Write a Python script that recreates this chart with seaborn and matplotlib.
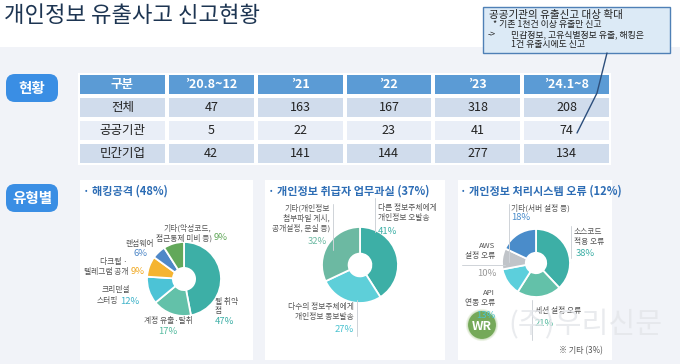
import matplotlib
matplotlib.use("Agg")
import matplotlib.pyplot as plt
import seaborn as sns
import numpy as np
from matplotlib.patches import Rectangle, FancyBboxPatch, Circle
from matplotlib.colors import ListedColormap

# table data
periods = ["’20.8~12", "’21", "’22", "’23", "’24.1~8"]
row_names = ["전체", "공공기관", "민간기업"]
total = [47, 163, 167, 318, 208]
public = [5, 22, 23, 41, 74]
private = [42, 141, 144, 277, 134]

# donut data
hack_values = [47, 17, 12, 9, 6, 9]
hack_colors = ["#3dafa6", "#63c1a9", "#4cc3d6", "#f5b431", "#4f88c8", "#62a85a"]
mistake_values = [41, 27, 32]
mistake_colors = ["#3dafa6", "#5ecfd9", "#6cb9a2"]
system_values = [38, 21, 13, 10, 18]
system_colors = ["#3dafa6", "#63c1a9", "#5ccfdc", "#c0c4c9", "#4a8cca"]

sns.set_theme(style="white")
plt.rcParams["font.family"] = ["Noto Sans CJK KR", "DejaVu Sans"]

W, H = 680, 364
fig = plt.figure(figsize=(W / 100, H / 100), dpi=100)
fig.patch.set_facecolor("white")


def px_axes(x, y, w, h):
    return fig.add_axes([x / W, 1 - (y + h) / H, w / W, h / H])


# background layer
bg = fig.add_axes([0, 0, 1, 1])
bg.set_xlim(0, W)
bg.set_ylim(H, 0)
bg.axis("off")
bg.add_patch(Rectangle((0, 47), W, H - 47, color="#f1f3f8", lw=0))
for x0, x1 in [(80, 253), (265, 445), (458, 612)]:
    bg.add_patch(Rectangle((x0, 180), x1 - x0, 180, color="white", lw=0))
for y0, txt in [(73, "현황"), (183, "유형별")]:
    bg.add_patch(FancyBboxPatch((7, y0 + 2), 50, 26, boxstyle="round,pad=1,rounding_size=9",
                                color="#3a8ee4", lw=0))
    bg.text(32, y0 + 15, txt, color="white", fontsize=10.5, ha="center", va="center",
            fontweight="bold")
bg.text(4, 15, "개인정보 유출사고 신고현황", fontsize=16, color="#1d3552",
        va="center", ha="left", fontweight="medium")

# table via heatmap
codes = np.array([[2] * 6, [1] * 6, [0] * 6, [1] * 6])
annot = np.array([["구분"] + periods,
                  [row_names[0]] + [str(v) for v in total],
                  [row_names[1]] + [str(v) for v in public],
                  [row_names[2]] + [str(v) for v in private]])
ax_tab = px_axes(78, 73, 533, 92)
sns.heatmap(codes, annot=annot, fmt="", cbar=False, vmin=0, vmax=2,
            cmap=ListedColormap(["#e9eef7", "#d0dcec", "#5b9bd5"]),
            linewidths=1.6, linecolor="white", xticklabels=False, yticklabels=False,
            annot_kws=dict(fontsize=9, color="#222222"), ax=ax_tab)
for i, t in enumerate(ax_tab.texts):
    if i < 6:
        t.set_color("white")
        t.set_fontweight("bold")

# donuts
def donut(values, colors, cx, cy, r):
    ax = px_axes(cx - r, cy - r, 2 * r, 2 * r)
    ax.pie(values, colors=colors, startangle=90, counterclock=False,
           wedgeprops=dict(width=0.7, edgecolor="white", linewidth=1.3))
    ax.set_xlim(-1, 1)
    ax.set_ylim(-1, 1)
    ax.set_aspect("equal")
    ax.axis("off")
    return ax


donut(hack_values, hack_colors, 184, 279, 37)
donut(mistake_values, mistake_colors, 360, 265, 38)
donut(system_values, system_colors, 536, 263, 34)

# overlay layer for labels and notes
top = fig.add_axes([0, 0, 1, 1])
top.set_xlim(0, W)
top.set_ylim(H, 0)
top.axis("off")
top.patch.set_alpha(0)

title_kw = dict(fontsize=8, color="#2d6db5", fontweight="bold", va="center", ha="left")
top.text(83, 191, "· 해킹공격 (48%)", **title_kw)
top.text(268, 191, "· 개인정보 취급자 업무과실 (37%)", **title_kw)
top.text(460, 191, "· 개인정보 처리시스템 오류 (12%)", **title_kw)

lab = dict(fontsize=5.6, color="#555555", va="center")
pct = dict(fontsize=6.8, va="center")
gray_line = dict(color="#cfd3d8", lw=0.7)

# pie 1 labels
top.text(163, 228, "기타(악성코드,", ha="left", **lab)
top.text(212, 238, "접근통제 미비 등)", ha="right", **lab)
top.text(214, 238, "9%", ha="left", color="#62a85a", **pct)
top.text(140, 244, "랜섬웨어", ha="center", **lab)
top.text(140, 253, "6%", ha="center", color="#4f88c8", **pct)
top.text(100, 262, "다크웹 ·", ha="left", **lab)
top.text(129, 272, "텔레그램 공개", ha="right", **lab)
top.text(131, 272, "9%", ha="left", color="#f0a820", **pct)
top.text(130, 290, "크리덴셜", ha="right", **lab)
top.text(118, 301, "스터핑", ha="right", **lab)
top.text(120, 301, "12%", ha="left", color="#3fb3c9", **pct)
top.text(168, 321, "계정 유출·탈취", ha="center", **lab)
top.text(168, 332, "17%", ha="center", color="#55bb9f", **pct)
top.text(215, 302, "웹 취약", ha="left", **lab)
top.text(215, 311, "점", ha="left", **lab)
top.text(215, 322, "47%", ha="left", color="#3dafa6", **pct)

# pie 2 labels
top.plot([333, 333], [204, 250], **gray_line)
top.plot([375, 375], [198, 232], **gray_line)
top.plot([357, 357], [300, 336], **gray_line)
top.text(330, 208, "기타(개인정보", ha="right", **lab)
top.text(330, 218, "첨부파일 게시,", ha="right", **lab)
top.text(330, 228, "공개설정, 분실 등)", ha="right", **lab)
top.text(327, 242, "32%", ha="right", color="#6cb9a2", **pct)
top.text(378, 208, "다른 정보주체에게", ha="left", **lab)
top.text(378, 218, "개인정보 오발송", ha="left", **lab)
top.text(378, 231, "41%", ha="left", color="#3dafa6", **pct)
top.text(354, 307, "다수의 정보주체에게", ha="right", **lab)
top.text(354, 317, "개인정보 동보발송", ha="right", **lab)
top.text(354, 330, "27%", ha="right", color="#4cc3d0", **pct)

# pie 3 labels
top.plot([509, 509], [204, 262], **gray_line)
top.plot([571, 571], [226, 258], **gray_line)
top.plot([532, 532], [300, 340], **gray_line)
top.plot([462, 505], [265, 265], **gray_line)
top.text(511, 208, "기타(서버 설정 등)", ha="left", **lab)
top.text(511, 218, "18%", ha="left", color="#4a8cca", **pct)
top.text(574, 231, "소스코드", ha="left", **lab)
top.text(574, 242, "적용 오류", ha="left", **lab)
top.text(576, 254, "38%", ha="left", color="#3dafa6", **pct)
top.text(495, 246, "AWS", ha="right", **lab)
top.text(495, 256, "설정 오류", ha="right", **lab)
top.text(487, 273, "10%", ha="center", color="#999999", **pct)
top.text(495, 293, "API", ha="right", **lab)
top.text(495, 303, "연동 오류", ha="right", **lab)
top.text(495, 315, "13%", ha="right", color="#4cc3d0", **pct)
top.text(535, 311, "세션 설정 오류", ha="left", **lab)
top.text(535, 323, "21%", ha="left", color="#55bb9f", **pct)
top.text(603, 351, "※ 기타 (3%)", ha="right", fontsize=5.8, color="#555555", va="center")

# callout note
note_kw = dict(color="#222222", va="center", ha="left")
top.add_patch(Rectangle((483, 7), 187, 46, facecolor="#dceaf6", edgecolor="#4f80b6", lw=1))
top.text(489, 15, "공공기관의 유출신고 대상 확대", fontsize=7.6, **note_kw)
top.text(493, 25, "* 기존 1천건 이상 유출만 신고", fontsize=6.4, **note_kw)
top.text(488, 34.5, "->", fontsize=6.4, **note_kw)
top.text(511, 34.5, "민감정보, 고유식별정보 유출, 해킹은", fontsize=6.4, **note_kw)
top.text(511, 44, "1건 유출시에도 신고", fontsize=6.4, **note_kw)
top.plot([607, 597, 577], [53, 93, 133], color="#2d4f7c", lw=1)

# watermark
top.add_patch(Circle((482, 325), 15, facecolor="#5d9a3c", edgecolor="#e8f0e0", lw=1.5, alpha=0.85))
top.text(482, 326, "WR", fontsize=9, color="white", ha="center", va="center", fontweight="bold")
top.text(508, 325, "(주)우리신문", fontsize=21, color="#e4e6ea", ha="left", va="center", alpha=0.8)

fig.savefig("out.png", dpi=100)
